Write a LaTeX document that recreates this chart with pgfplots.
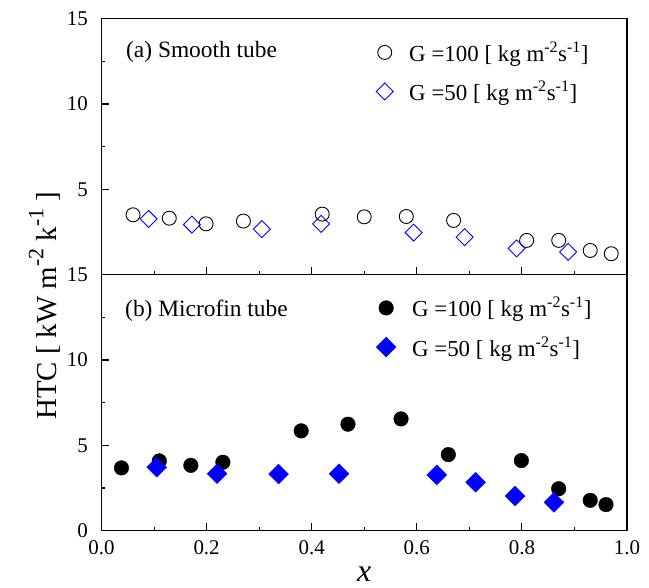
\documentclass[border=0pt]{standalone}
\usepackage{pgfplots}
\pgfplotsset{compat=1.18}
\usepackage{fontspec}
\setmainfont{Liberation Serif}
\definecolor{pureblue}{RGB}{0,0,255}
\newcommand\sups[1]{\raisebox{0.45em}{\fontsize{22}{23}\selectfont #1}}
\begin{document}
\begin{tikzpicture}
\path[use as bounding box] (-101.5bp,-57.3bp) rectangle (547.5bp,530.7bp);
\pgfplotsset{
  panel/.style={
    width=525.5bp, height=256bp, scale only axis,
    xmin=0, xmax=1, ymin=0, ymax=15,
    tick pos=left, tick align=inside,
    xtick={0,0.2,0.4,0.6,0.8,1.0}, minor x tick num=1,
    minor y tick num=1,
    major tick length=8bp, minor tick length=4bp,
    axis line style={line width=1.3bp},
    every tick/.style={black, line width=1.1bp},
    tick label style={font=\fontsize{21}{24}\selectfont},
    /pgf/number format/assume math mode=true,
    xticklabel style={inner sep=0pt, anchor=north, yshift=-10bp,
      /pgf/number format/.cd, fixed, fixed zerofill, precision=1},
    yticklabel style={inner sep=0pt, anchor=east, xshift=-13.5bp},
    legend image code/.code={\draw[#1] plot coordinates {(0bp,0bp)};},
    legend style={draw=none, fill=none, inner xsep=0pt, inner ysep=0pt,
      font=\fontsize{23}{26}\selectfont, row sep=14bp, column sep=14bp,
      anchor=north west},
    legend cell align=left,
    clip=false,
  },
}
% lower panel
\begin{axis}[panel, at={(0,0)}, anchor=south west,
  ytick={0,5,10,15},
  xlabel={\fontsize{32}{36}\selectfont\itshape x},
  xlabel style={at={(axis description cs:0.5,0)}, anchor=base, yshift=-51bp, inner sep=0pt},
  legend style={at={(axis cs:0.5225,13.8)}},
]
\addplot[only marks, mark=*, black, mark size=7.3bp] coordinates {
 (0.038,3.68) (0.110,4.09) (0.170,3.83) (0.231,4.01) (0.380,5.85) (0.469,6.24)
 (0.570,6.55) (0.660,4.46) (0.799,4.11) (0.870,2.46) (0.930,1.78) (0.960,1.53)};
\addlegendentry{G =100 [ kg m\textsuperscript{-2}s\textsuperscript{-1}]}
\addplot[only marks, mark=square*, pureblue, mark size=7bp, mark options={rotate=45}] coordinates {
 (0.105,3.72) (0.220,3.34) (0.337,3.32) (0.452,3.34) (0.638,3.27) (0.712,2.84)
 (0.787,2.03) (0.861,1.66)};
\addlegendentry{G =50 [ kg m\textsuperscript{-2}s\textsuperscript{-1}]}
\node[anchor=base west, font=\fontsize{23.5}{26}\selectfont, inner sep=0pt] at (axis cs:0.0448,12.56) {(b) Microfin tube};
\end{axis}
% upper panel
\begin{axis}[panel, at={(0,256bp)}, anchor=south west,
  ytick={5,10,15}, xticklabels={},
  legend style={at={(axis cs:0.5225,13.77)}},
]
\addplot[only marks, mark=o, black, mark size=7bp, line width=0.9bp] coordinates {
 (0.060,3.51) (0.129,3.31) (0.199,2.98) (0.270,3.14) (0.420,3.55) (0.500,3.39)
 (0.580,3.41) (0.670,3.18) (0.809,2.01) (0.870,2.01) (0.930,1.42) (0.970,1.23)};
\addlegendentry{G =100 [ kg m\textsuperscript{-2}s\textsuperscript{-1}]}
\addplot[only marks, mark=square, pureblue, mark size=6bp, line width=0.9bp, mark options={rotate=45}] coordinates {
 (0.0895,3.27) (0.172,2.94) (0.305,2.67) (0.418,2.98) (0.594,2.47) (0.691,2.20)
 (0.790,1.54) (0.888,1.34)};
\addlegendentry{G =50 [ kg m\textsuperscript{-2}s\textsuperscript{-1}]}
\node[anchor=base west, font=\fontsize{23.5}{26}\selectfont, inner sep=0pt] at (axis cs:0.0466,12.7) {(a) Smooth tube};
\end{axis}
\node[rotate=90, anchor=base, inner sep=0pt, font=\fontsize{29}{32}\selectfont] at (-45bp,225bp) {HTC [ kW m\sups{-2} k\sups{-1} ]};
\end{tikzpicture}
\end{document}
